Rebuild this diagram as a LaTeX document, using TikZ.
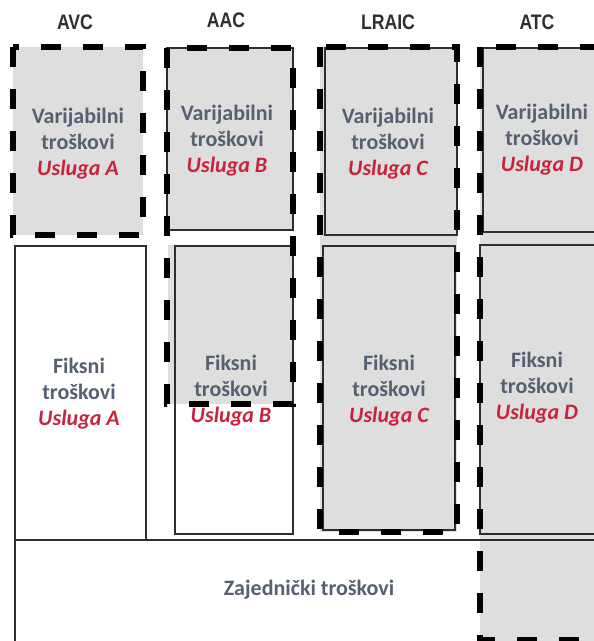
\documentclass[tikz,border=0pt]{standalone}
\usepackage{fontspec}
\setmainfont{Carlito}
\newfontfamily\headfont[FakeStretch=0.84]{Liberation Sans}

\definecolor{boxgray}{HTML}{DEDEDE}
\definecolor{txtgray}{HTML}{566070}
\definecolor{txtred}{HTML}{C8233A}
\definecolor{linegray}{HTML}{2E2E2E}

\tikzset{
  head/.style={font=\headfont\bfseries\fontsize{21}{23}\selectfont, text=black!82, inner sep=0pt},
  costbox/.style={draw=linegray, line width=1.6pt},
  bound/.style={draw=black, line width=5.5pt, dash pattern=on 20pt off 22pt},
  shade/.style={fill=boxgray},
  txtblock/.style={align=center, text=txtgray, inner sep=0pt,
    font=\bfseries\fontsize{22}{26}\selectfont},
}
\newcommand\svc[1]{{\color{txtred}\itshape #1}}

\begin{document}
\begin{tikzpicture}[x=1pt, y=-1pt]
  \useasboundingbox (0,0) rectangle (594,641);
  \clip (0,0) rectangle (594,641);

  % grey areas covered by each cost measure
  \path[shade] (13,47) rectangle (143,235);
  \path[shade] (167,48) rectangle (293,230);
  \path[shade] (168,245) rectangle (293,404);
  \path[shade] (320,47) rectangle (457,532);
  \path[shade] (480,47) rectangle (620,660);

  % cost boxes
  \draw[costbox] (15,246) rectangle (146,540);
  \draw[costbox] (167,48) rectangle (293,230);
  \draw[costbox] (175,246) rectangle (293,534);
  \draw[costbox] (325,48) rectangle (457,235);
  \draw[costbox] (323,246) rectangle (455,530);
  \draw[costbox] (483,48) rectangle (620,232);
  \draw[costbox] (480,245) rectangle (620,534);
  \draw[costbox] (15,540) rectangle (620,680);

  % dashed outlines of the cost measures
  \draw[bound] (13,47) rectangle (143,235);
  \draw[bound] (167,48) rectangle (293,404);
  \draw[bound] (320,47) rectangle (457,532);
  \draw[bound] (480,47) rectangle (640,640);

  % headers
  \node[head] (hAVC) at (75,22) {AVC};
  \node[head] (hAAC) at (226,20) {AAC};
  \node[head] (hLRAIC) at (388,22) {LRAIC};
  \node[head] (hATC) at (537,22) {ATC};

  % variable costs
  \node[txtblock] (varA) at (78,144) {Varijabilni\\troškovi\\\svc{Usluga A}};
  \node[txtblock] (varB) at (227,141) {Varijabilni\\troškovi\\\svc{Usluga B}};
  \node[txtblock] (varC) at (388,144) {Varijabilni\\troškovi\\\svc{Usluga C}};
  \node[txtblock] (varD) at (542,140) {Varijabilni\\troškovi\\\svc{Usluga D}};

  % fixed costs
  \node[txtblock] (fixA) at (79,394) {Fiksni\\troškovi\\\svc{Usluga A}};
  \node[txtblock] (fixB) at (231,391) {Fiksni\\troškovi\\\svc{Usluga B}};
  \node[txtblock] (fixC) at (389,391) {Fiksni\\troškovi\\\svc{Usluga C}};
  \node[txtblock] (fixD) at (537,388) {Fiksni\\troškovi\\\svc{Usluga D}};

  % common costs
  \node[txtblock] (common) at (309,590) {Zajednički troškovi};
\end{tikzpicture}
\end{document}
